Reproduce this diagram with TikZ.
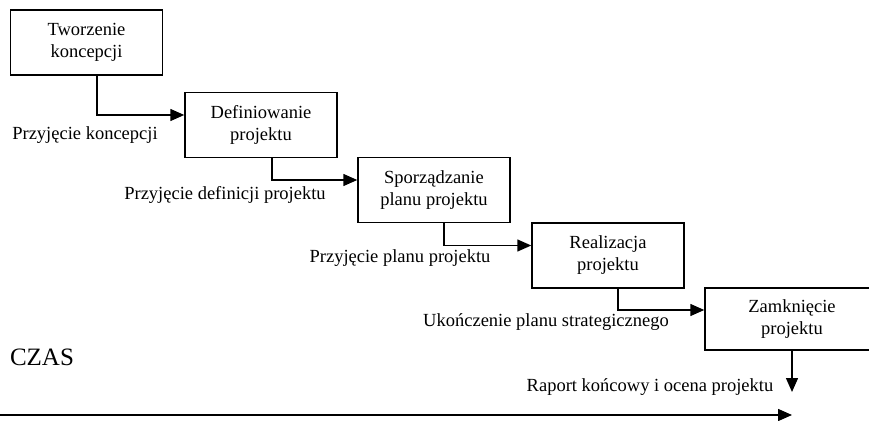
\documentclass[tikz,border=0pt]{standalone}
\usepackage{fontspec}
\setmainfont{Liberation Serif}
\usepackage{tikz}
\usetikzlibrary{calc}
\usetikzlibrary{arrows.meta}
\usetikzlibrary{positioning}
\tikzset{>={Triangle[length=14pt,width=12pt]}}
\tikzstyle{stage} = [draw, line width=1.5pt, minimum width=152pt, minimum height=65pt, align=center, inner sep=2pt, font=\fontsize{18.5}{22}\selectfont]
\tikzstyle{lbl} = [draw=none, inner sep=0, font=\fontsize{18.5}{22}\selectfont]
\tikzstyle{flow} = [->, line width=1.5pt]

\begin{document}
\begin{tikzpicture}[x=1pt, y=1pt]
\useasboundingbox (0, 0) rectangle (869, 420);
\node [stage] (tw) at (86.5, 377.5) {Tworzenie\\koncepcji};
\node [stage] (def) at (261, 295) {Definiowanie\\projektu};
\node [stage] (plan) at (434, 230) {Sporządzanie\\planu projektu};
\node [stage] (real) at (608, 164.5) {Realizacja\\projektu};
\node [stage, minimum width=174pt, minimum height=62pt] (zam) at (792, 101) {Zamknięcie\\projektu};
\node [lbl] (l1) at (85, 285) {Przyjęcie koncepcji};
\node [lbl] (l2) at (225, 225) {Przyjęcie definicji projektu};
\node [lbl] (l3) at (400, 162) {Przyjęcie planu projektu};
\node [lbl] (l4) at (546, 98) {Ukończenie planu strategicznego};
\node [lbl] (l5) at (650, 33) {Raport końcowy i ocena projektu};
\node [lbl, font=\fontsize{25}{28}\selectfont] (czas) at (42, 63) {CZAS};
\coordinate (rk) at (792, 28);
\coordinate (t0) at (0, 5);
\coordinate (t1) at (792, 5);
\draw [flow] ($(tw.south)+(10.5,0)$) |- ($(def.west)+(0,10)$);
\draw [flow] ($(def.south)+(11,0)$) |- ($(plan.west)+(0,10)$);
\draw [flow] ($(plan.south)+(10,0)$) |- ($(real.west)+(0,10)$);
\draw [flow] ($(real.south)+(10,0)$) |- ($(zam.west)+(0,9)$);
\draw [flow] (zam.south) to (rk);
\draw [flow] (t0) to (t1);
\end{tikzpicture}
\end{document}
